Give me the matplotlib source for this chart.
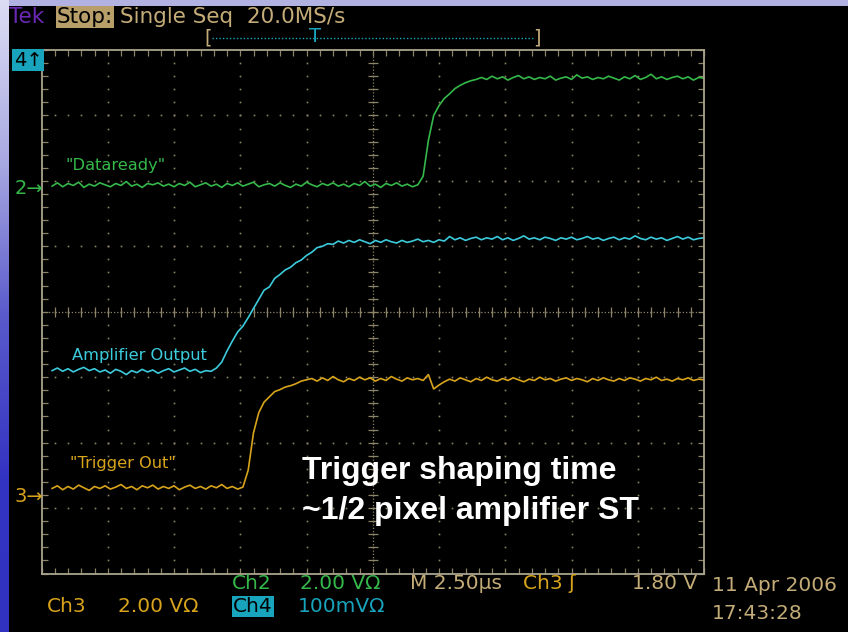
import numpy as np
import matplotlib.pyplot as plt
from matplotlib.colors import LinearSegmentedColormap
from matplotlib.lines import Line2D

W, H = 848, 632

# time axis of the capture (us), one sample every 0.2 us, 2.5 us/div
t = np.arange(0.4, 25.01, 0.2)

# traces in screen divisions (0 = centre line)
dataready = [
    1.92, 1.97, 1.91, 1.96, 1.93, 1.98, 1.90, 1.95, 1.92, 1.97,
    1.94, 1.91, 1.96, 1.93, 1.99, 1.92, 1.95, 1.90, 1.96, 1.94,
    1.97, 1.92, 1.95, 1.91, 1.96, 1.93, 1.98, 1.91, 1.94, 1.97,
    1.92, 1.95, 1.90, 1.96, 1.93, 1.97, 1.92, 1.95, 1.98, 1.91,
    1.94, 1.96, 1.92, 1.97, 1.93, 1.90, 1.95, 1.92, 1.98, 1.94,
    1.91, 1.96, 1.93, 1.97, 1.92, 1.95, 1.91, 1.96, 1.93, 1.99,
    1.92, 1.95, 1.90, 1.96, 1.93, 1.97, 1.92, 1.95, 1.91, 1.94,
    2.07, 2.62, 3.00, 3.15, 3.26, 3.33, 3.41, 3.46, 3.50, 3.53, 3.55,
    3.58, 3.55, 3.60, 3.56, 3.59, 3.54, 3.58, 3.61, 3.56, 3.59,
    3.55, 3.58, 3.56, 3.60, 3.54, 3.57, 3.59, 3.55, 3.62, 3.57,
    3.59, 3.55, 3.58, 3.56, 3.60, 3.57, 3.54, 3.59, 3.56, 3.61,
    3.55, 3.58, 3.63, 3.56, 3.59, 3.55, 3.58, 3.60, 3.56, 3.59,
    3.54, 3.58, 3.57,
]
amplifier = [
    -0.90, -0.86, -0.91, -0.87, -0.92, -0.88, -0.85, -0.90, -0.87, -0.92,
    -0.89, -0.94, -0.88, -0.91, -0.96, -0.90, -0.93, -0.88, -0.92, -0.89,
    -0.94, -0.90, -0.87, -0.92, -0.89, -0.86, -0.91, -0.88, -0.93, -0.90,
    -0.91,
    -0.86, -0.77, -0.60, -0.45, -0.31, -0.22, -0.09, 0.05, 0.19, 0.33,
    0.38, 0.51, 0.57, 0.64, 0.68, 0.75, 0.79, 0.86, 0.91, 0.98,
    1.00, 1.04, 1.03,
    1.08, 1.05, 1.09, 1.06, 1.10, 1.07, 1.04, 1.09, 1.06, 1.10,
    1.07, 1.05, 1.09, 1.06, 1.08, 1.11, 1.07, 1.09, 1.06, 1.10,
    1.08, 1.15, 1.10, 1.13, 1.09, 1.12, 1.14, 1.10, 1.13, 1.11,
    1.15, 1.10, 1.13, 1.09, 1.12, 1.16, 1.11, 1.13, 1.10, 1.14,
    1.12, 1.09, 1.13, 1.11, 1.14, 1.10, 1.12, 1.15, 1.11, 1.13,
    1.09, 1.12, 1.14, 1.10, 1.13, 1.11, 1.16, 1.12, 1.10, 1.14,
    1.11, 1.13, 1.09, 1.12, 1.15, 1.11, 1.14, 1.10, 1.12, 1.13,
]
trigger_out = [
    -2.70, -2.66, -2.72, -2.67, -2.71, -2.65, -2.69, -2.73, -2.67, -2.70,
    -2.66, -2.71, -2.68, -2.64, -2.70, -2.67, -2.72, -2.66, -2.69, -2.65,
    -2.71, -2.67, -2.70, -2.66, -2.72, -2.68, -2.65, -2.70, -2.67, -2.71,
    -2.66, -2.69, -2.64, -2.70, -2.67, -2.71, -2.68,
    -2.42, -1.85, -1.54, -1.38, -1.30, -1.22, -1.19, -1.15, -1.13, -1.10,
    -1.06, -1.04,
    -1.02, -1.06, -1.01, -1.05, -0.99, -1.04, -1.07, -1.02, -1.05, -1.00,
    -1.04, -1.01, -1.06, -1.02, -1.05, -0.99, -1.03, -1.06, -1.01, -1.04,
    -1.02, -1.05,
    -0.96, -1.18, -1.12, -1.07,
    -1.03, -1.06, -1.01, -1.04, -1.07, -1.02, -1.05, -1.00, -1.04, -1.06,
    -1.02, -1.05, -1.01, -1.04, -1.07, -1.03, -1.05, -1.00, -1.04, -1.02,
    -1.06, -1.03, -1.01, -1.05, -1.02, -1.04, -1.07, -1.02, -1.05, -1.01,
    -1.04, -1.06, -1.02, -1.05, -1.01, -1.03, -1.06, -1.02, -1.04, -1.00,
    -1.05, -1.03, -1.06, -1.02, -1.04, -1.01, -1.05, -1.03, -1.04,
]

GREEN = '#35b84a'
CYAN = '#3ccbdc'
YELLOW = '#d8a41c'
TAN = '#c4ac78'
GRID = '#8c8468'
FRAME = '#aaa48e'


def px(x, y):
    return x / W, 1 - y / H


fig = plt.figure(figsize=(W / 100, H / 100), dpi=100, facecolor='black')

# slide background bits: gradient strip on the left, band on top
cmap = LinearSegmentedColormap.from_list(
    'slide', ['#dcdcf4', '#aaaae2', '#5a5acc', '#3434c2', '#3232c0'])
side = fig.add_axes([0, 0, 9 / W, 1])
side.imshow(np.linspace(0, 1, 256)[:, None], aspect='auto', cmap=cmap)
side.axis('off')
top = fig.add_axes([9 / W, 1 - 6 / H, 1 - 9 / W, 6 / H])
top.set_facecolor('#b2b2e2')
top.set_xticks([])
top.set_yticks([])
for s in top.spines.values():
    s.set_visible(False)

# graticule
ax = fig.add_axes([41.5 / W, 58.5 / H, 662.5 / W, 523.5 / H])
ax.set_facecolor('black')
ax.set_xlim(0, 25)
ax.set_ylim(-4, 4)
for s in ax.spines.values():
    s.set_color(FRAME)
    s.set_linewidth(1.3)
ax.set_xticks(np.arange(0, 25.01, 0.5))
ax.set_yticks(np.arange(-4, 4.01, 0.2))
ax.tick_params(direction='in', length=4, width=0.9, color=GRID,
               top=True, right=True, labelbottom=False, labelleft=False)

gx, gy = np.meshgrid(np.arange(2.5, 24, 2.5), np.arange(-3.8, 4, 0.2))
ax.plot(gx.ravel(), gy.ravel(), ls='none', marker='s', ms=1.2, mew=0, color=GRID)
hx, hy = np.meshgrid(np.arange(0.5, 25, 0.5), np.arange(-3, 4, 1))
ax.plot(hx.ravel(), hy.ravel(), ls='none', marker='s', ms=1.2, mew=0, color=GRID)

# centre cross with minor ticks
ax.plot([0, 25], [0, 0], ls=(0, (1, 1.6)), lw=0.9, color=GRID)
ax.plot([12.5, 12.5], [-4, 4], ls=(0, (1, 1.6)), lw=0.9, color=GRID)
ax.plot(np.arange(0.5, 25, 0.5), np.zeros(49), ls='none', marker='|',
        ms=7, mew=0.9, color=GRID)
ax.plot(np.full(39, 12.5), np.arange(-3.8, 4, 0.2), ls='none', marker='_',
        ms=7, mew=0.9, color=GRID)

# traces
ax.plot(t, dataready, color=GREEN, lw=1.2)
ax.plot(t, amplifier, color=CYAN, lw=1.2)
ax.plot(t, trigger_out, color=YELLOW, lw=1.2)

ax.text(0.92, 2.17, '"Dataready"', color=GREEN, fontsize=11.7, va='baseline')
ax.text(1.15, -0.73, 'Amplifier Output', color=CYAN, fontsize=11.7, va='baseline')
ax.text(1.08, -2.39, '"Trigger Out"', color=YELLOW, fontsize=11.7, va='baseline')

ax.text(9.83, -2.56, 'Trigger shaping time', color='white', fontsize=23,
        fontweight='bold', family='Liberation Sans', va='baseline')
ax.text(9.83, -3.17, '~1/2 pixel amplifier ST', color='white', fontsize=23,
        fontweight='bold', family='Liberation Sans', va='baseline')

# channel markers on the left
fig.text(*px(14, 60), '4\u2191', color='black', fontsize=14, va='center',
         bbox=dict(boxstyle='square,pad=0.08', fc='#18a4bc', ec='none'))
fig.text(*px(15, 189), '2\u2192', color=GREEN, fontsize=14, va='center')
fig.text(*px(15, 497), '3\u2192', color=YELLOW, fontsize=14, va='center')

# header line
fig.text(*px(9, 23), 'Tek', color='#6a28b4', fontsize=15.5, va='baseline')
fig.text(*px(57, 23), 'Stop:', color='black', fontsize=15.5, va='baseline',
         bbox=dict(boxstyle='square,pad=0.05', fc='#b89e68', ec='none'))
fig.text(*px(120, 23), 'Single Seq  20.0MS/s', color=TAN, fontsize=15.5,
         va='baseline')

# record position bar
fig.text(*px(204, 38), '[', color=TAN, fontsize=14, va='center')
fig.text(*px(533, 38), ']', color=TAN, fontsize=14, va='center')
fig.add_artist(Line2D([212 / W, 533 / W], [1 - 38 / H, 1 - 38 / H],
                      ls=(0, (1, 1.5)), lw=1, color='#18a4bc'))
fig.text(*px(315, 37), 'T', color='#18a4bc', fontsize=14, va='center',
         ha='center')

# status line at the bottom
fs = 14.5
fig.text(*px(232, 589), 'Ch2', color=GREEN, fontsize=fs, va='baseline')
fig.text(*px(300, 589), '2.00 V\u03a9', color=GREEN, fontsize=fs, va='baseline')
fig.text(*px(410, 589), 'M 2.50\u00b5s', color=TAN, fontsize=fs, va='baseline')
fig.text(*px(523, 589), 'Ch3 \u0283', color=YELLOW, fontsize=fs, va='baseline')
fig.text(*px(632, 589), '1.80 V', color=TAN, fontsize=fs, va='baseline')
fig.text(*px(712, 591), '11 Apr 2006', color=TAN, fontsize=fs, va='baseline')
fig.text(*px(712, 619), '17:43:28', color=TAN, fontsize=fs, va='baseline')
fig.text(*px(47, 612), 'Ch3', color=YELLOW, fontsize=fs, va='baseline')
fig.text(*px(118, 612), '2.00 V\u03a9', color=YELLOW, fontsize=fs, va='baseline')
fig.text(*px(233, 612), 'Ch4', color='black', fontsize=fs, va='baseline',
         bbox=dict(boxstyle='square,pad=0.05', fc='#18a4bc', ec='none'))
fig.text(*px(298, 612), '100mV\u03a9', color='#18a4bc', fontsize=fs, va='baseline')

fig.savefig('out.png', dpi=100, facecolor='black')
